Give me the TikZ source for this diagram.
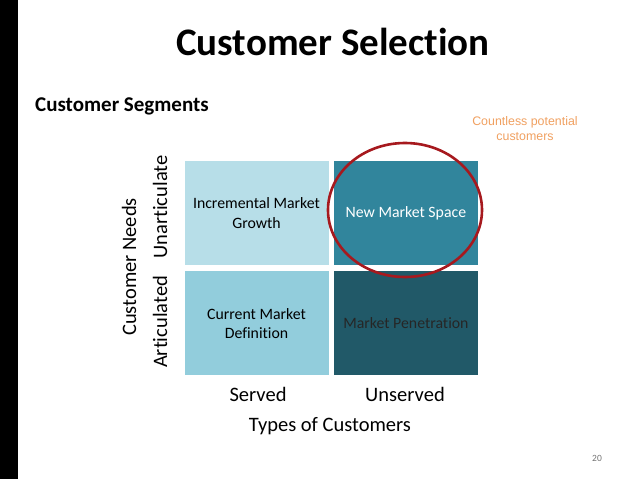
\documentclass[tikz,border=0pt]{standalone}
\usepackage{fontspec}
\setmainfont{Carlito}[Ligatures=NoCommon]
\newfontfamily\arialfont{Liberation Sans}
\usetikzlibrary{positioning}

\definecolor{aqualight}{HTML}{B7DEE8}
\definecolor{aquamid}{HTML}{92CDDC}
\definecolor{aquadark}{HTML}{31859C}
\definecolor{aquadeep}{HTML}{215968}
\definecolor{ringred}{HTML}{A6191E}
\definecolor{noteorange}{HTML}{F0A060}

\begin{document}
\begin{tikzpicture}[
                    x=1pt, y=-1pt,
                    cell/.style={rectangle, minimum width=144pt, minimum height=104pt, inner sep=0pt, align=center, font=\fontsize{15.8}{19.5}\selectfont},
                    axislabel/.style={font=\fontsize{20.5}{23}\selectfont, inner sep=0pt},
                    ring/.style={draw=ringred, line width=2.6pt}
                ]
                    \useasboundingbox (0,0) rectangle (638,479);
                    \fill[black] (0,0) rectangle (18,479);

                    % headings
                    \node[font=\fontsize{39}{44}\selectfont\bfseries] (title) at (333,42) {Customer Selection};
                    \node[font=\fontsize{21}{24}\selectfont\bfseries, anchor=west, inner sep=0pt] (segments) at (35,106) {Customer Segments};
                    \node[font=\arialfont\fontsize{12.4}{15}\selectfont, text=noteorange, align=center] (note) at (525,129) {Countless potential\\customers};

                    % the matrix
                    \node[cell, fill=aqualight] (growth) at (256.5,213) {Incremental Market\\Growth};
                    \node[cell, fill=aquadark, text=white, right=5pt of growth] (space) {New Market Space};
                    \node[cell, fill=aquamid, below=6pt of growth] (current) {Current Market\\Definition};
                    \node[cell, fill=aquadeep, text=black!85, right=5pt of current] (penetration) {Market Penetration};

                    \draw[ring] (405,210) ellipse [x radius=77, y radius=67];

                    % axes
                    \node[axislabel] (served) at (258,394) {Served};
                    \node[axislabel] (unserved) at (405,394) {Unserved};
                    \node[axislabel] (types) at (330,426) {Types of Customers};
                    \node[axislabel, rotate=90] (unart) at (160,207) {Unarticulate};
                    \node[axislabel, rotate=90] (art) at (160,322) {Articulated};
                    \node[axislabel, rotate=90] (needs) at (129,267) {Customer Needs};

                    \node[font=\fontsize{9.5}{11}\selectfont, text=black!55] (page) at (597,458) {20};

                \end{tikzpicture}
\end{document}
